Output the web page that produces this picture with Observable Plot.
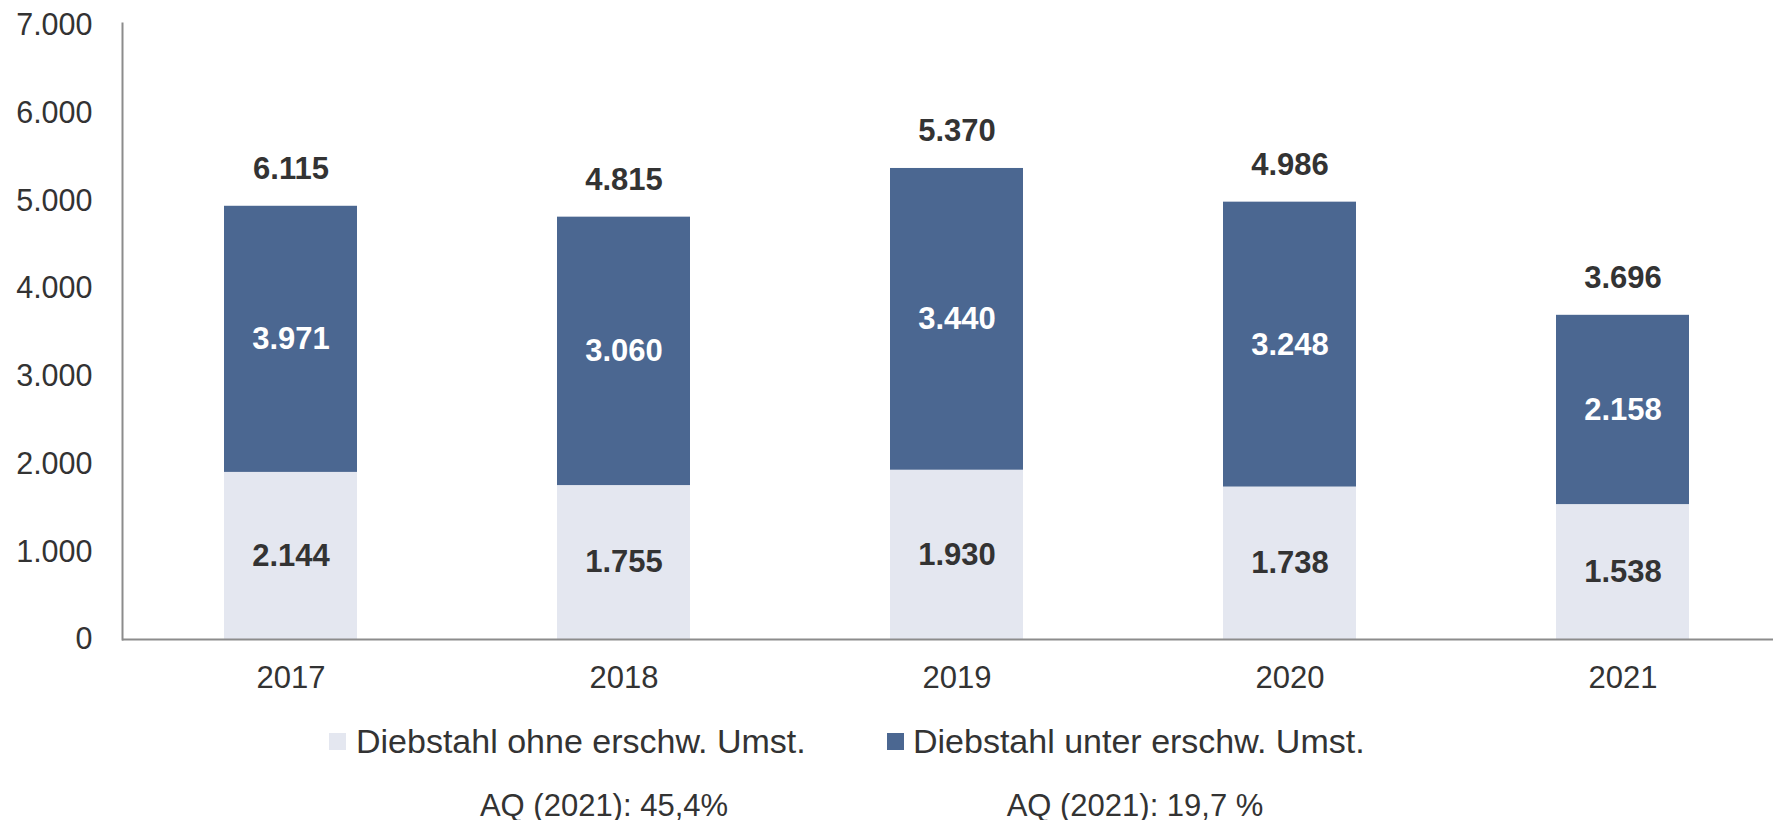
<!DOCTYPE html>
<html>
<head>
<meta charset="utf-8">
<script src="https://cdn.jsdelivr.net/npm/d3@7"></script>
<script src="https://cdn.jsdelivr.net/npm/@observablehq/plot@0.6"></script>
<style>
  html, body { margin: 0; padding: 0; background: #fff; overflow: hidden; }
  #wrap { position: relative; width: 1773px; height: 820px; font-family: "Liberation Sans", Arial, sans-serif; color: #333; }
  #chart { position: absolute; left: 0; top: 0; }
  .leg { position: absolute; top: 724px; font-size: 34px; line-height: 34px; white-space: nowrap; }
  .sw { position: absolute; top: 733px; width: 17px; height: 17px; }
  .aq { position: absolute; top: 790px; font-size: 31px; line-height: 31px; white-space: nowrap; transform: translateX(-50%); }
</style>
</head>
<body>
<div id="wrap">
  <div id="chart"></div>
</div>
<script>
// ---- data ----
const years = ["2017", "2018", "2019", "2020", "2021"];
const seriesNames = ["Diebstahl ohne erschw. Umst.", "Diebstahl unter erschw. Umst."];
const seriesColors = ["#E4E7F0", "#4B6791"];
// bar heights as drawn in the picture
const ohneBar = [1905, 1755, 1930, 1738, 1538];
const unterBar = [3034, 3060, 3440, 3248, 2158];
// printed labels
const ohneLabel = ["2.144", "1.755", "1.930", "1.738", "1.538"];
const unterLabel = ["3.971", "3.060", "3.440", "3.248", "2.158"];
const totalLabel = ["6.115", "4.815", "5.370", "4.986", "3.696"];
const yTicks = [0, 1000, 2000, 3000, 4000, 5000, 6000, 7000];
const captions = ["AQ (2021): 45,4%", "AQ (2021): 19,7 %"];

// ---- build tables ----
const rows = [];
years.forEach((yr, i) => {
  rows.push({year: yr, series: seriesNames[0], value: ohneBar[i], label: ohneLabel[i]});
  rows.push({year: yr, series: seriesNames[1], value: unterBar[i], label: unterLabel[i]});
});
const totals = years.map((yr, i) => ({year: yr, total: ohneBar[i] + unterBar[i], label: totalLabel[i]}));

const de = d3.formatLocale({decimal: ",", thousands: ".", grouping: [3], currency: ["", " €"]});
const fmt = de.format(",");

const W = 1773, H = 700;
const chart = Plot.plot({
  width: W,
  height: H,
  marginLeft: 122,
  marginRight: 0,
  marginTop: 23,
  marginBottom: H - 639,
  style: {fontFamily: "Liberation Sans, Arial, sans-serif", fontSize: "31px", color: "#333", background: "transparent", overflow: "visible"},
  x: {domain: years, range: [122, 122 + 5 * 333.9], paddingInner: 0.6, paddingOuter: 0.3, label: null},
  y: {domain: [0, 7000], range: [639, 25], label: null},
  color: {domain: seriesNames, range: seriesColors},
  marks: [
    Plot.barY(rows, {x: "year", y: "value", fill: "series"}),
    Plot.text(rows.filter(d => d.series === seriesNames[0]), Plot.stackY({x: "year", y: "value", text: "label", fill: "#333", fontWeight: "bold", fontSize: 31})),
    Plot.text(rows, Plot.stackY({x: "year", y: "value", text: d => d.series === seriesNames[1] ? d.label : "", fill: "#ffffff", fontWeight: "bold", fontSize: 31})),
    Plot.text(totals, {x: "year", y: "total", text: "label", lineAnchor: "bottom", dy: -27, fill: "#333", fontWeight: "bold", fontSize: 31}),
    Plot.axisY({ticks: yTicks, tickFormat: fmt, tickSize: 0, tickPadding: 30, label: null, fontSize: 30.5}),
    Plot.axisX({tickSize: 0, tickPadding: 26, label: null, fontSize: 31}),
    Plot.frame({anchor: "left", stroke: "#8c8c8c", strokeWidth: 2}),
    Plot.ruleY([0], {stroke: "#8c8c8c", strokeWidth: 2})
  ]
});
document.getElementById("chart").appendChild(chart);

// ---- legend & captions (HTML, below the SVG) ----
const wrap = document.getElementById("wrap");
const legendPos = [{sw: 329, tx: 356}, {sw: 887, tx: 913}];
seriesNames.forEach((name, i) => {
  const sw = document.createElement("div");
  sw.className = "sw";
  sw.style.left = legendPos[i].sw + "px";
  sw.style.background = seriesColors[i];
  wrap.appendChild(sw);
  const t = document.createElement("div");
  t.className = "leg";
  t.style.left = legendPos[i].tx + "px";
  t.textContent = name;
  wrap.appendChild(t);
});
const capX = [604, 1135];
captions.forEach((c, i) => {
  const t = document.createElement("div");
  t.className = "aq";
  t.style.left = capX[i] + "px";
  t.textContent = c;
  wrap.appendChild(t);
});
</script>
</body>
</html>
